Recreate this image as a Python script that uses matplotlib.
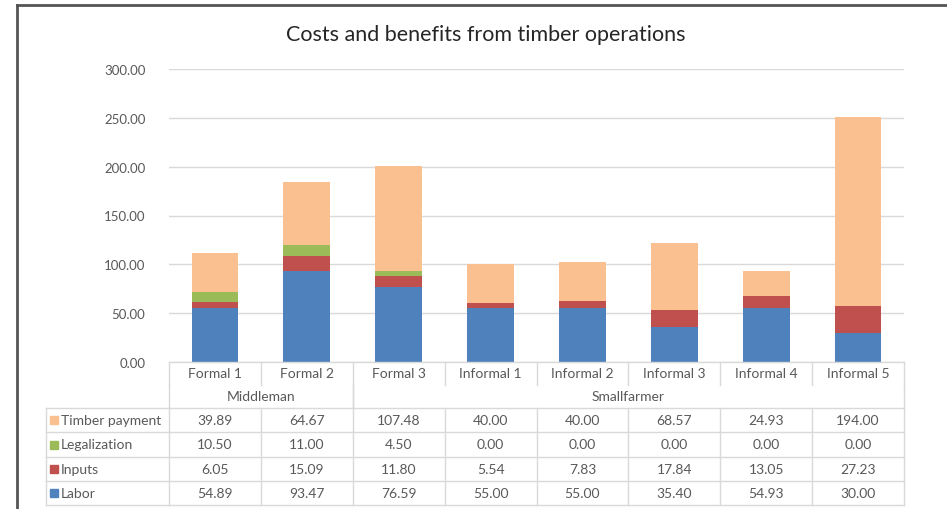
import matplotlib
matplotlib.use("Agg")
import matplotlib.pyplot as plt
from matplotlib.lines import Line2D
from matplotlib.patches import Rectangle
from matplotlib.transforms import blended_transform_factory

categories = ["Formal 1", "Formal 2", "Formal 3", "Informal 1", "Informal 2",
              "Informal 3", "Informal 4", "Informal 5"]
groups = ["Middleman", "Smallfarmer"]
group_spans = [(0, 2), (2, 8)]
series_names = ["Labor", "Inputs", "Legalization", "Timber payment"]
labor = [54.89, 93.47, 76.59, 55.00, 55.00, 35.40, 54.93, 30.00]
inputs = [6.05, 15.09, 11.80, 5.54, 7.83, 17.84, 13.05, 27.23]
legalization = [10.50, 11.00, 4.50, 0.00, 0.00, 0.00, 0.00, 0.00]
timber = [39.89, 64.67, 107.48, 40.00, 40.00, 68.57, 24.93, 194.00]
yticks = [0, 50, 100, 150, 200, 250, 300]

series = [labor, inputs, legalization, timber]
colors = ["#4F81BD", "#C0504D", "#9BBB59", "#FAC090"]

plt.rcParams['font.family'] = ['Lato', 'DejaVu Sans']
W, H = 947, 510
fig = plt.figure(figsize=(W / 100, H / 100), dpi=100)
fig.patch.set_facecolor("white")

def fx(px):
    return px / W

def fy(py):
    return 1 - py / H

x0, x1 = 169, 904
y_top, y_bot = 70, 363
ax = fig.add_axes([fx(x0), fy(y_bot), fx(x1) - fx(x0), (y_bot - y_top) / H])
n = len(categories)
xs = [i + 0.5 for i in range(n)]
bottom = [0.0] * n
for vals, col, name in zip(series, colors, series_names):
    ax.bar(xs, vals, width=0.51, bottom=bottom, color=col, label=name, zorder=3)
    bottom = [b + v for b, v in zip(bottom, vals)]

ax.set_xlim(0, n)
ax.set_ylim(0, 300)
ax.set_yticks(yticks)
ax.set_yticklabels([f"{t:.2f}" for t in yticks], color="#595959", fontsize=9.5)
ax.tick_params(axis="y", length=0, pad=17)
ax.set_xticks([])
for s in ax.spines.values():
    s.set_visible(False)
ax.grid(axis="y", color="#D9D9D9", linewidth=1, zorder=0)

fig.text(0.513, fy(35), "Costs and benefits from timber operations",
         ha="center", va="center", fontsize=15.5, color="#262626")

# table
tr = blended_transform_factory(ax.transData, fig.transFigure)
lc = "#D9D9D9"
tc = "#595959"
fs = 10
row_cat = (363, 386)
row_grp = (386, 409)
row_lines = [409, 433, 458, 482, 506]

def hline(xa, xb, py, transform):
    fig.add_artist(Line2D([xa, xb], [fy(py), fy(py)], transform=transform,
                          color=lc, linewidth=1))

def vline(xv, pa, pb, transform):
    fig.add_artist(Line2D([xv, xv], [fy(pa), fy(pb)], transform=transform,
                          color=lc, linewidth=1))

hline(0, n, row_cat[0], tr)
for i in range(n + 1):
    vline(i, row_cat[0], row_cat[1], tr)
for g0, g1 in group_spans:
    vline(g0, row_grp[0], row_grp[1], tr)
    vline(g1, row_grp[0], row_grp[1], tr)
for py in row_lines:
    hline(0, n, py, tr)
    fig.add_artist(Line2D([fx(46), fx(x0)], [fy(py), fy(py)],
                          transform=fig.transFigure, color=lc, linewidth=1))
for i in range(n + 1):
    vline(i, row_lines[0], row_lines[-1], tr)
vline(fx(46), row_lines[0], row_lines[-1], fig.transFigure)

for i, c in enumerate(categories):
    fig.text(i + 0.5, fy((row_cat[0] + row_cat[1]) / 2), c, transform=tr,
             ha="center", va="center", fontsize=fs, color=tc)
for g, (g0, g1) in zip(groups, group_spans):
    fig.text((g0 + g1) / 2, fy((row_grp[0] + row_grp[1]) / 2), g, transform=tr,
             ha="center", va="center", fontsize=fs, color=tc)

table_order = [3, 2, 1, 0]
for r, si in enumerate(table_order):
    yc = (row_lines[r] + row_lines[r + 1]) / 2
    fig.add_artist(Rectangle((fx(50), fy(yc + 4)), fx(8), 8 / H,
                             transform=fig.transFigure, color=colors[si]))
    fig.text(fx(61), fy(yc), series_names[si], ha="left", va="center",
             fontsize=fs, color=tc)
    for i, v in enumerate(series[si]):
        fig.text(i + 0.5, fy(yc), f"{v:.2f}", transform=tr,
                 ha="center", va="center", fontsize=fs, color=tc)

# outer chart frame
fig.add_artist(Line2D([fx(17), fx(17)], [fy(6), 0], transform=fig.transFigure,
                      color="#555555", linewidth=2))
fig.add_artist(Line2D([fx(17), 1], [fy(6), fy(6)], transform=fig.transFigure,
                      color="#555555", linewidth=2))

fig.savefig("out.png", dpi=100)
